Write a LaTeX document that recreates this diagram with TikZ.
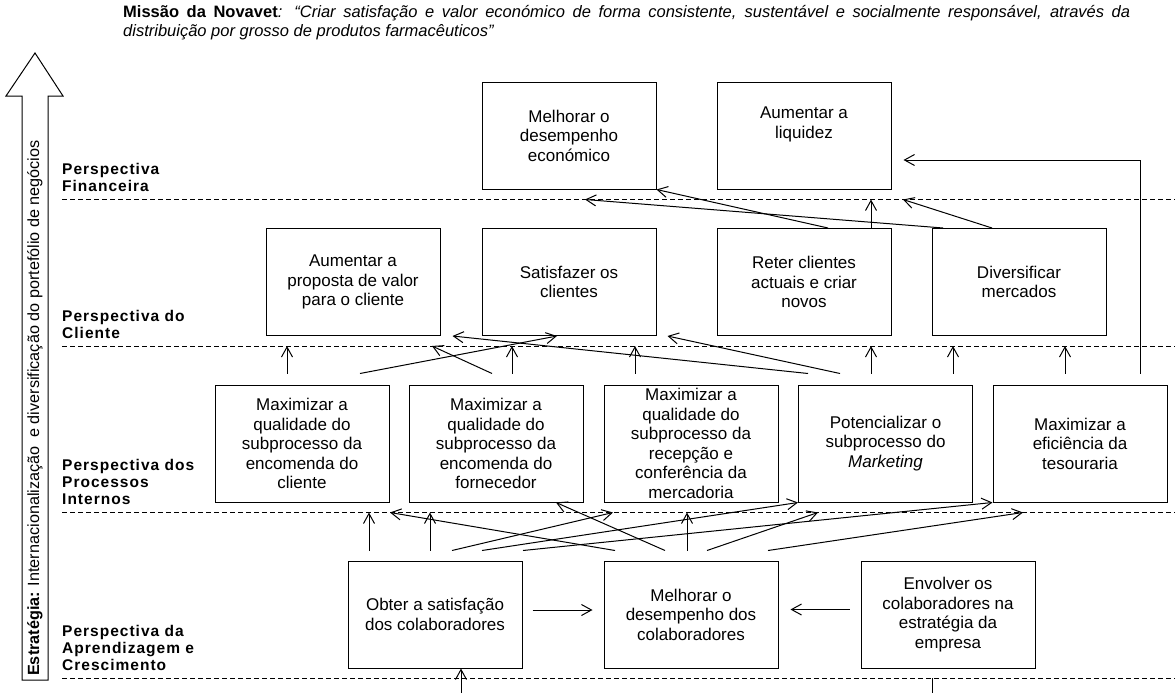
\documentclass[tikz,border=0pt]{standalone}
\usepackage{fontspec}
\setmainfont{Liberation Sans}
\newfontfamily\perspfont[LetterSpace=6.5]{Liberation Sans}
\usetikzlibrary{arrows.meta}
\tikzset{
  obj/.style={draw, line width=1pt, minimum width=174pt, minimum height=107pt, inner sep=0pt, align=center, font=\fontsize{17}{19.5}\selectfont},
  proc/.style={obj, minimum height=117pt},
  persp/.style={anchor=south west, inner sep=0pt, align=left, font=\perspfont\bfseries\fontsize{15.5}{17}\selectfont},
  arr/.style={line width=1pt, -{Straight Barb[length=10pt,width=11pt,line width=1pt]}},
  sep/.style={dashed, dash pattern=on 5pt off 3pt, line width=1pt}
}
\begin{document}
\begin{tikzpicture}[x=1pt,y=1pt]
\useasboundingbox (0,0) rectangle (1175,-693);
\node[anchor=base west, inner sep=0pt, font=\fontsize{16.5}{19}\selectfont] (missao) at (123,-18) {\makebox[1007pt][s]{\textbf{Missão da Novavet}\textit{: “Criar satisfação e valor económico de forma consistente, sustentável e socialmente responsável, através da}}};
\node[anchor=base west, inner sep=0pt, font=\fontsize{16.5}{19}\selectfont] (missao2) at (123,-37) {\textit{distribuição por grosso de produtos farmacêuticos”}};
\draw[line width=1pt] (22,-680) -- (22,-96) -- (6,-96) -- (35,-53) -- (63,-96) -- (48,-96) -- (48,-680) -- cycle;
\node[rotate=90, anchor=west, inner sep=0pt, font=\fontsize{16.2}{19}\selectfont] (estrat) at (35,-676) {\textbf{Estratégia:} Internacionalização\ \ e diversificação do portefólio de negócios};
\foreach \d in {199,346,512,678}
  \draw[sep] (62,-\d) -- (1175,-\d);
\node[persp] (lfin) at (62,-192) {Perspectiva\\Financeira};
\node[persp] (lcli) at (62,-339) {Perspectiva do\\Cliente};
\node[persp] (lproc) at (62,-505) {Perspectiva dos\\Processos\\Internos};
\node[persp] (lapr) at (62,-671) {Perspectiva da\\Aprendizagem e\\Crescimento};
\node[obj] (f1) at (569,-135.5) {Melhorar o\\desempenho\\económico};
\node[obj] (f2) at (804,-135.5) {Aumentar a\\liquidez\\\strut};
\node[obj] (c1) at (353,-282) {Aumentar a\\proposta de valor\\para o cliente};
\node[obj] (c2) at (569,-282) {Satisfazer os\\clientes};
\node[obj] (c3) at (804,-282) {Reter clientes\\actuais e criar\\novos};
\node[obj] (c4) at (1019,-282) {Diversificar\\mercados};
\node[proc] (p1) at (302,-443.5) {Maximizar a\\qualidade do\\subprocesso da\\encomenda do\\cliente};
\node[proc] (p2) at (496,-443.5) {Maximizar a\\qualidade do\\subprocesso da\\encomenda do\\fornecedor};
\node[proc] (p3) at (691,-443.5) {Maximizar a\\qualidade do\\subprocesso da\\recepção e\\conferência da\\mercadoria};
\node[proc] (p4) at (885.5,-443.5) {Potencializar o\\subprocesso do\\\textit{Marketing}};
\node[proc] (p5) at (1080,-443.5) {Maximizar a\\eficiência da\\tesouraria};
\node[obj] (a1) at (435,-614.5) {Obter a satisfação\\dos colaboradores};
\node[obj] (a2) at (691,-614.5) {Melhorar o\\desempenho dos\\colaboradores};
\node[obj] (a3) at (948,-614.5) {Envolver os\\colaboradores na\\estratégia da\\empresa};
\draw[arr] ([xshift=24pt]c3.north) -- (f1.south east);
\draw[arr] ([xshift=-76pt]c4.north) -- ([xshift=16pt,yshift=-10pt]f1.south);
\draw[arr] ([xshift=67pt]c3.north) -- ([xshift=67pt,yshift=-10pt]f2.south);
\draw[arr] ([xshift=-27pt]c4.north) -- ([xshift=99pt,yshift=-10pt]f2.south);
\draw[arr] ([xshift=60pt,yshift=11pt]p5.north) |- ([xshift=12pt,yshift=-24.5pt]f2.east);
\draw[arr] ([xshift=-15pt,yshift=11pt]p1.north) -- ([xshift=-66pt,yshift=-10pt]c1.south);
\draw[arr] ([xshift=58pt,yshift=11pt]p1.north) -- ([xshift=-12pt]c2.south);
\draw[arr] ([xshift=-4pt,yshift=11pt]p2.north) -- ([xshift=79pt,yshift=-10pt]c1.south);
\draw[arr] ([xshift=16pt,yshift=11pt]p2.north) -- ([xshift=-57pt,yshift=-10pt]c2.south);
\draw[arr] ([xshift=-56pt,yshift=11pt]p3.north) -- ([xshift=66pt,yshift=-10pt]c2.south);
\draw[arr] ([xshift=-77.5pt,yshift=11pt]p4.north) -- ([xshift=12pt]c1.south east);
\draw[arr] ([xshift=-45.5pt,yshift=11pt]p4.north) -- ([xshift=11pt]c2.south east);
\draw[arr] ([xshift=-14.5pt,yshift=11pt]p4.north) -- ([xshift=67pt,yshift=-10pt]c3.south);
\draw[arr] ([xshift=67.5pt,yshift=11pt]p4.north) -- ([xshift=-66pt,yshift=-10pt]c4.south);
\draw[arr] ([xshift=-15pt,yshift=11pt]p5.north) -- ([xshift=46pt,yshift=-10pt]c4.south);
\draw[arr] ([xshift=-66pt,yshift=10pt]a1.north) -- ([xshift=67pt,yshift=-10pt]p1.south);
\draw[arr] ([xshift=-5pt,yshift=10pt]a1.north) -- ([xshift=-66pt,yshift=-10pt]p2.south);
\draw[arr] ([xshift=17pt,yshift=10pt]a1.north) -- ([xshift=-78pt,yshift=-10pt]p3.south);
\draw[arr] ([xshift=47pt,yshift=10pt]a1.north) -- (p4.south west);
\draw[arr] ([xshift=88pt,yshift=10pt]a1.north) -- (p5.south west);
\draw[arr] ([xshift=-76pt,yshift=10pt]a2.north) -- ([xshift=88pt,yshift=-10pt]p1.south);
\draw[arr] ([xshift=-26pt,yshift=10pt]a2.north) -- ([xshift=60pt]p2.south);
\draw[arr] ([xshift=-4pt,yshift=10pt]a2.north) -- ([xshift=-4pt,yshift=-10pt]p3.south);
\draw[arr] ([xshift=16pt,yshift=10pt]a2.north) -- ([xshift=-67.5pt,yshift=-10pt]p4.south);
\draw[arr] ([xshift=77pt,yshift=10pt]a2.north) -- ([xshift=-57pt,yshift=-10pt]p5.south);
\draw[arr] ([xshift=10pt,yshift=4.5pt]a1.east) -- ([xshift=-11pt,yshift=4.5pt]a2.west);
\draw[arr] ([xshift=-11pt,yshift=5pt]a3.west) -- ([xshift=12pt,yshift=5pt]a2.east);
\coordinate (bin) at (461,-693);
\draw[arr] (bin) -- ([xshift=26pt]a1.south);
\coordinate (bout) at (932,-693);
\coordinate (bouttop) at (932,-678);
\draw[line width=1pt] (bout) -- (bouttop);
\end{tikzpicture}
\end{document}
